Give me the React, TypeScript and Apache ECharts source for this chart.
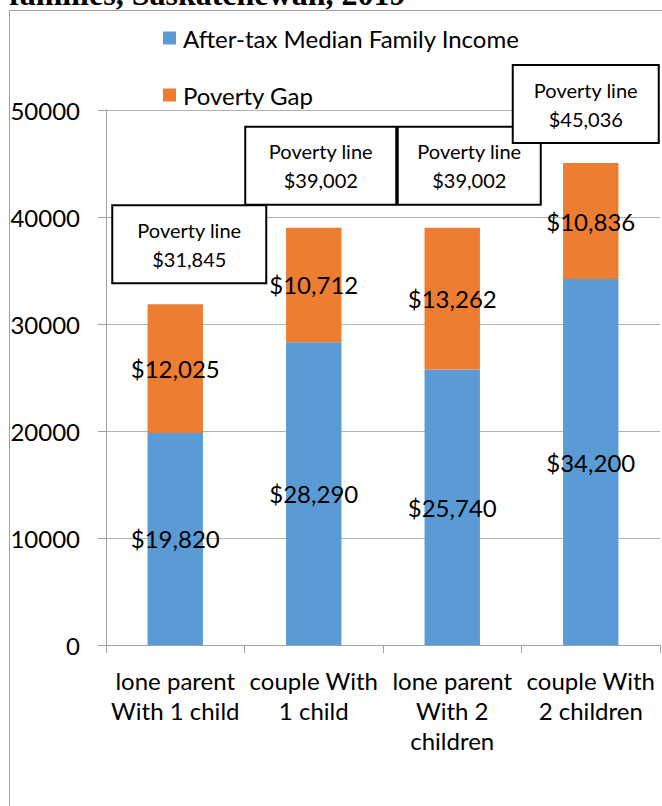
import React, { useEffect, useRef } from "react";
import * as echarts from "echarts";

const CATEGORIES = [
  "lone parent\nWith 1 child",
  "couple With\n1 child",
  "lone parent\nWith 2\nchildren",
  "couple With\n2 children",
];
const INCOME = [19820, 28290, 25740, 34200];
const GAP = [12025, 10712, 13262, 10836];
const POVERTY_LINE = [31845, 39002, 39002, 45036];
const SERIES_NAMES = ["After-tax Median Family Income", "Poverty Gap"];
const TITLE_TEXT = "families, Saskatchewan, 2019";
const BOX_TITLE = "Poverty line";

// callout layout (not data)
const BOX_OFFSETS: [number, number][] = [
  [14, -60],
  [7, -62],
  [17, -62],
  [-5, -59],
];
const BOX_WIDTHS = [154, 151, 143, 146];

const FONT = "Lato";
const fmt = (v: number) => "$" + v.toLocaleString("en-US");

export default function App() {
  const ref = useRef<HTMLDivElement>(null);
  useEffect(() => {
    if (!ref.current) return;
    const chart = echarts.init(ref.current, null, { renderer: "svg" });
    chart.setOption({
      animation: false,
      textStyle: { fontFamily: FONT },
      graphic: [
        {
          type: "rect",
          shape: { x: 9.5, y: 10.5, width: 700, height: 850 },
          style: { fill: "none", stroke: "#a0a0a0", lineWidth: 1 },
          silent: true,
          z: -10,
        },
        {
          type: "text",
          x: 9,
          y: -6,
          style: {
            text: TITLE_TEXT,
            fontFamily: "Liberation Serif",
            fontWeight: "bold",
            fontSize: 32,
            fill: "#000",
            verticalAlign: "middle",
            align: "left",
          },
        },
      ],
      legend: [
        {
          data: [SERIES_NAMES[0]],
          left: 158,
          top: 21,
          itemWidth: 13,
          itemHeight: 13,
          icon: "rect",
          textStyle: { fontSize: 24, color: "#000", fontFamily: FONT, padding: [0, 0, 0, 2] },
        },
        {
          data: [SERIES_NAMES[1]],
          left: 158,
          top: 78,
          itemWidth: 13,
          itemHeight: 13,
          icon: "rect",
          textStyle: { fontSize: 24, color: "#000", fontFamily: FONT, padding: [0, 0, 0, 2] },
        },
      ],
      grid: { left: 106, right: 2, top: 110, bottom: 161, containLabel: false },
      xAxis: {
        type: "category",
        data: CATEGORIES,
        axisLine: { show: true, lineStyle: { color: "#a0a0a0", width: 1 } },
        axisTick: { show: true, alignWithLabel: false, length: 8, lineStyle: { color: "#a0a0a0" } },
        axisLabel: {
          interval: 0,
          fontSize: 24,
          lineHeight: 30,
          color: "#000",
          margin: 20,
          fontFamily: FONT,
        },
      },
      yAxis: {
        type: "value",
        min: 0,
        max: 50000,
        interval: 10000,
        axisLine: { show: true, lineStyle: { color: "#a0a0a0", width: 1 } },
        axisTick: { show: true, length: 8, lineStyle: { color: "#a0a0a0" } },
        splitLine: { show: true, lineStyle: { color: "#b0b0b0", width: 1 } },
        axisLabel: {
          fontSize: 24,
          color: "#000",
          margin: 26,
          fontFamily: FONT,
          formatter: (v: number) => String(v),
        },
      },
      series: [
        {
          name: SERIES_NAMES[0],
          type: "bar",
          stack: "total",
          data: INCOME,
          barWidth: "40%",
          itemStyle: { color: "#5B9BD5" },
          label: {
            show: true,
            position: "inside",
            formatter: (p: any) => fmt(p.value),
            fontSize: 24,
            color: "#000",
            fontFamily: FONT,
          },
        },
        {
          name: SERIES_NAMES[1],
          type: "bar",
          stack: "total",
          data: GAP,
          barWidth: "40%",
          itemStyle: { color: "#ED7D31" },
          label: {
            show: true,
            position: "inside",
            formatter: (p: any) => fmt(p.value),
            fontSize: 24,
            color: "#000",
            fontFamily: FONT,
          },
        },
        {
          name: "Poverty line",
          type: "scatter",
          data: POVERTY_LINE.map((v, i) => ({
            value: v,
            label: { offset: BOX_OFFSETS[i], width: BOX_WIDTHS[i] - 10 },
          })),
          symbolSize: 1,
          itemStyle: { color: "rgba(0,0,0,0)", opacity: 1 },
          emphasis: { disabled: true },
          z: 5,
          label: {
            show: true,
            position: "inside",
            formatter: (p: any) => BOX_TITLE + "\n" + fmt(p.value),
            backgroundColor: "#fff",
            borderColor: "#000",
            borderWidth: 2,
            padding: [9, 4],
            fontSize: 20,
            lineHeight: 29,
            color: "#000",
            opacity: 1,
            align: "center",
            verticalAlign: "middle",
            fontFamily: FONT,
            textBorderWidth: 0,
          },
        },
      ],
    });
    return () => chart.dispose();
  }, []);
  return (
    <div
      ref={ref}
      style={{ position: "absolute", left: 0, top: 0, width: 662, height: 806 }}
    />
  );
}
